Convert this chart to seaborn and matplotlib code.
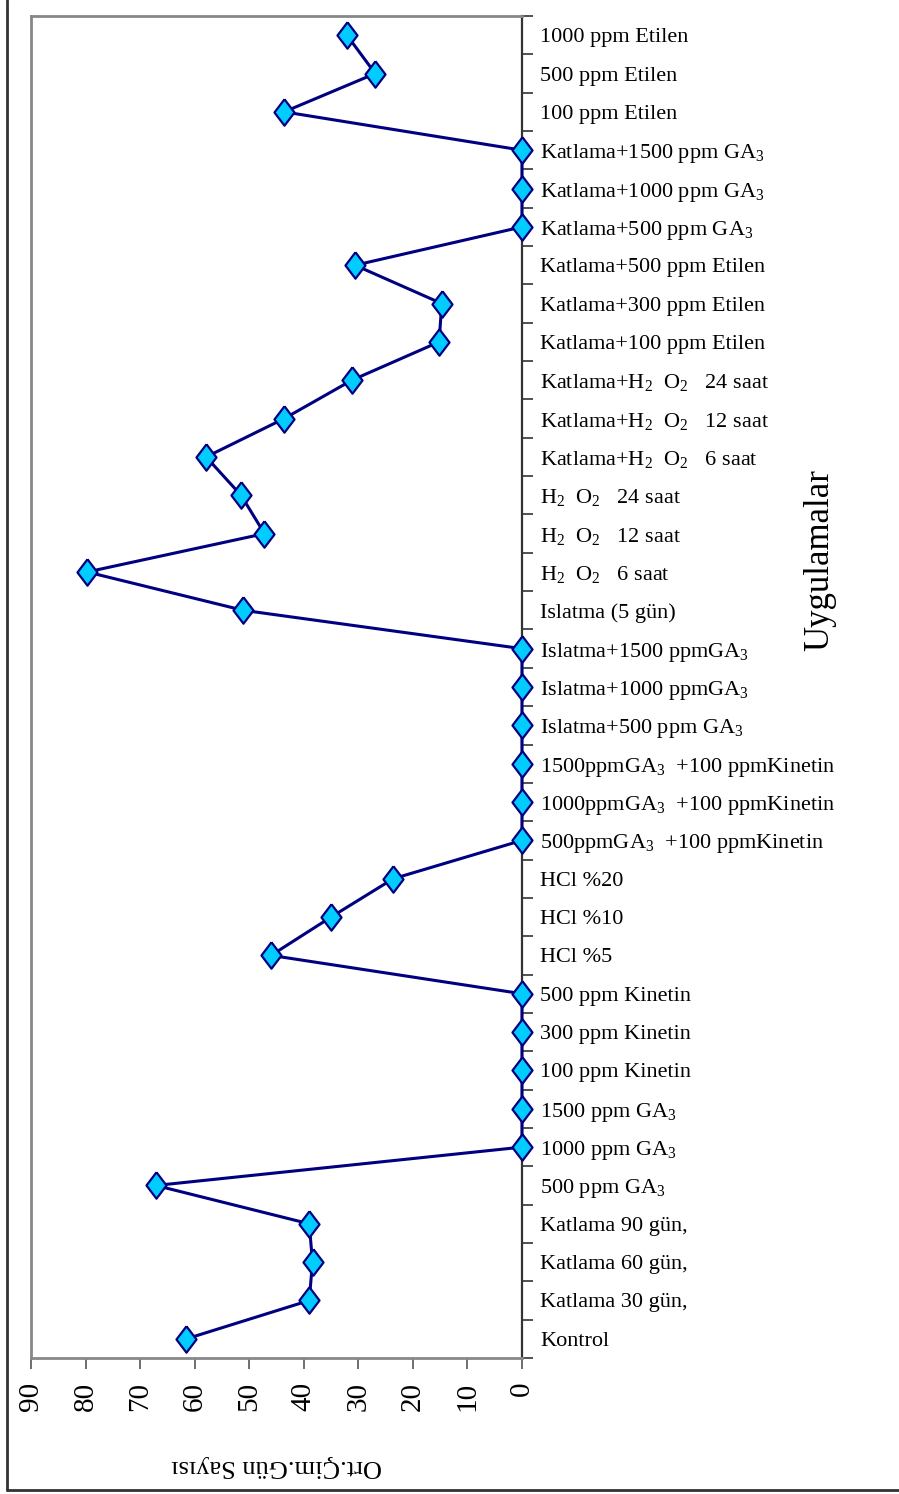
import numpy as np
import pandas as pd
import matplotlib
matplotlib.use('Agg')
import matplotlib.pyplot as plt
import seaborn as sns
from matplotlib.lines import Line2D

# categories, bottom (Kontrol) to top
categories = [
    'Kontrol', 'Katlama 30 gün,', 'Katlama 60 gün,', 'Katlama 90 gün,',
    '500 ppm GA$_3$', '1000 ppm GA$_3$', '1500 ppm GA$_3$',
    '100 ppm Kinetin', '300 ppm Kinetin', '500 ppm Kinetin',
    'HCl %5', 'HCl %10', 'HCl %20',
    '500ppmGA$_3$  +100 ppmKinetin', '1000ppmGA$_3$  +100 ppmKinetin',
    '1500ppmGA$_3$  +100 ppmKinetin',
    'Islatma+500 ppm GA$_3$', 'Islatma+1000 ppmGA$_3$', 'Islatma+1500 ppmGA$_3$',
    'Islatma (5 gün)',
    'H$_2$  O$_2$   6 saat', 'H$_2$  O$_2$   12 saat', 'H$_2$  O$_2$   24 saat',
    'Katlama+H$_2$  O$_2$   6 saat', 'Katlama+H$_2$  O$_2$   12 saat',
    'Katlama+H$_2$  O$_2$   24 saat',
    'Katlama+100 ppm Etilen', 'Katlama+300 ppm Etilen', 'Katlama+500 ppm Etilen',
    'Katlama+500 ppm GA$_3$', 'Katlama+1000 ppm GA$_3$', 'Katlama+1500 ppm GA$_3$',
    '100 ppm Etilen', '500 ppm Etilen', '1000 ppm Etilen',
]
gun_sayisi = [
    61.5, 39.0, 38.4, 39.0,
    67.1, 0, 0,
    0, 0, 0,
    46.0, 35.0, 23.6,
    0, 0, 0,
    0, 0, 0,
    51.1,
    79.7, 47.2, 51.5,
    57.9, 43.6, 31.2,
    15.2, 14.7, 30.6,
    0, 0, 0,
    43.6, 26.9, 32.1,
]
x_ticks = [0, 10, 20, 30, 40, 50, 60, 70, 80, 90]

df = pd.DataFrame({'pos': np.arange(len(categories)), 'val': gun_sayisi})

sns.set_style('white')
plt.rcParams['font.family'] = ['Liberation Serif', 'DejaVu Serif']
plt.rcParams['mathtext.fontset'] = 'custom'
plt.rcParams['mathtext.rm'] = 'Liberation Serif'
plt.rcParams['mathtext.it'] = 'Liberation Serif:italic'
plt.rcParams['text.color'] = 'black'
plt.rcParams['axes.labelcolor'] = 'black'

fig = plt.figure(figsize=(8.99, 14.94), dpi=100)
ax = fig.add_axes([31 / 899, 1 - 1358 / 1494, 491 / 899, 1342 / 1494])

diamond = [(0, 1), (0.76, 0), (0, -1), (-0.76, 0), (0, 1)]
sns.lineplot(data=df, x='val', y='pos', sort=False, estimator=None, orient='y',
             color='#000080', lw=2.2, marker=diamond, markersize=19,
             markerfacecolor='#00CCFF', markeredgecolor='#000080',
             markeredgewidth=1.6, ax=ax, zorder=3, clip_on=False)

ax.set_xlim(90, 0)
ax.set_ylim(-0.5, len(categories) - 0.5)

# value axis at bottom, labels rotated
ax.set_xticks(x_ticks)
ax.set_xticklabels([str(t) for t in x_ticks], rotation=90, fontsize=21)
ax.tick_params(axis='x', direction='out', length=8, width=1.2, color='#555555',
               labelcolor='black', bottom=True, pad=9)
ax.set_xlabel('Ort.Çim.Gün Sayısı', fontsize=19, rotation=180, labelpad=32)

# category axis on the right
ax.yaxis.tick_right()
ax.set_yticks(df['pos'])
ax.set_yticklabels(categories, fontsize=16)
ax.set_yticks(np.arange(len(categories) + 1) - 0.5, minor=True)
ax.tick_params(axis='y', which='major', length=0, pad=13, right=True,
               labelcolor='black')
ax.tick_params(axis='y', which='minor', direction='out', length=8, width=1.2,
               color='#333333', right=True, left=False)
ax.set_ylabel('')

for side in ['left', 'top', 'bottom']:
    ax.spines[side].set_color('#888888')
    ax.spines[side].set_linewidth(2)
ax.spines['right'].set_color('#333333')
ax.spines['right'].set_linewidth(1.6)

fig.text(820 / 899, 1 - 560 / 1494, 'Uygulamalar', rotation=90, fontsize=25,
         ha='center', va='center')

# outer frame (left and bottom edges visible)
fig.add_artist(Line2D([7 / 899, 7 / 899], [1 - 1490 / 1494, 1.0],
                      transform=fig.transFigure, color='#333333', lw=2))
fig.add_artist(Line2D([7 / 899, 1.0], [1 - 1490 / 1494, 1 - 1490 / 1494],
                      transform=fig.transFigure, color='#333333', lw=2))

fig.savefig('out.png', dpi=100)
